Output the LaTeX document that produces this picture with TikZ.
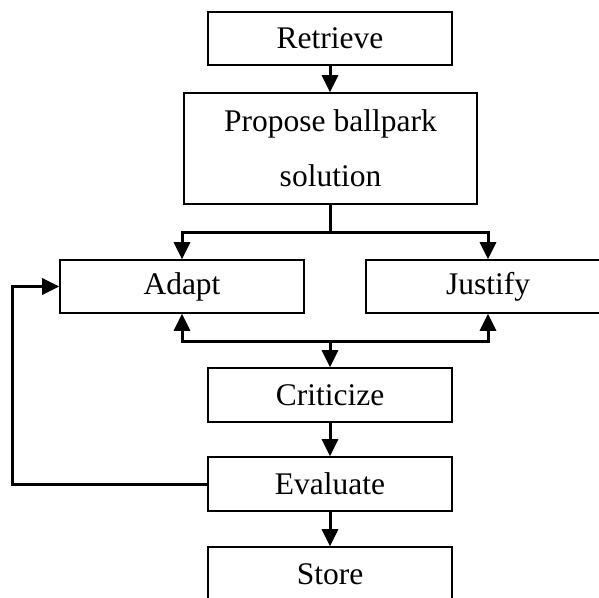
\documentclass[tikz,border=0pt]{standalone}
\usepackage{fontspec}
\setmainfont{Liberation Serif}
\usetikzlibrary{arrows.meta}
\begin{document}
\begin{tikzpicture}[x=1pt,y=-1pt,
  box/.style={draw, line width=1.6pt, inner sep=0pt, align=center,
    font=\fontsize{31.5}{55}\selectfont},
  link/.style={line width=3pt},
  arr/.style={link, -{Triangle[length=17pt,width=16pt]}}]
\useasboundingbox (0,0) rectangle (599,597);
\clip (0,0) rectangle (599,597);

% process steps
\node[box, minimum width=244pt, minimum height=53pt]  (retrieve)  at (330,38.5) {Retrieve};
\node[box, minimum width=293pt, minimum height=111pt] (propose)   at (330.5,148.5) {Propose ballpark\\solution};
\node[box, minimum width=244pt, minimum height=53pt]  (adapt)     at (182,286.5) {Adapt};
\node[box, minimum width=244pt, minimum height=53pt]  (justify)   at (488,286.5) {Justify};
\node[box, minimum width=244pt, minimum height=54pt]  (criticize) at (330,395) {Criticize};
\node[box, minimum width=244pt, minimum height=54pt]  (evaluate)  at (330,484) {Evaluate};
\node[box, minimum width=244pt, minimum height=54pt]  (store)     at (330,574) {Store};

% branching points
\coordinate (fork) at (330.5,232);
\coordinate (join) at (330,341);
\coordinate (loop) at (12.5,0);

\draw[arr] (retrieve.south) -- (retrieve.south |- propose.north);
\draw[link] (propose.south) -- (fork);
\draw[arr] (fork) -| (adapt.north);
\draw[arr] (fork) -| (justify.north);

\draw[arr] (join) -| (adapt.south);
\draw[arr] (join) -| (justify.south);
\draw[arr] (join) -- (criticize.north);

\draw[arr] (criticize) -- (evaluate);
\draw[arr] (evaluate) -- (store);

% feedback from evaluation back to adaptation
\draw[arr] (evaluate.west) -- (evaluate.west -| loop) |- (adapt.west);
\end{tikzpicture}
\end{document}
